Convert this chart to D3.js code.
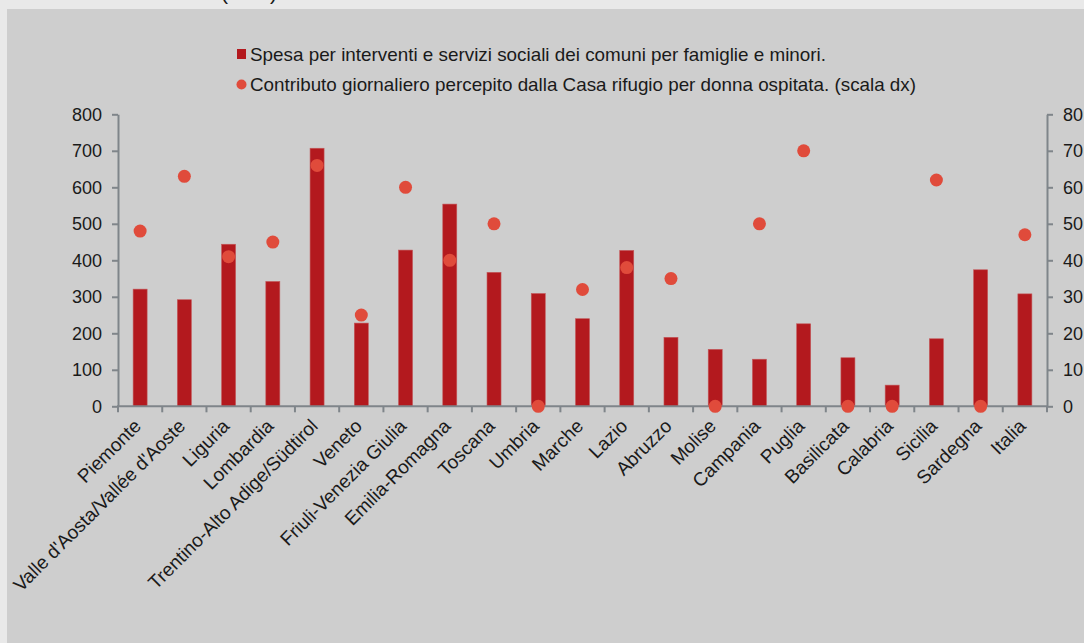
<!DOCTYPE html>
<html>
<head>
<meta charset="utf-8">
<script src="https://cdn.jsdelivr.net/npm/d3@7"></script>
<style>
  html, body { margin: 0; padding: 0; background: #e9e9e9; }
  svg { display: block; }
  text { font-family: "Liberation Sans", Arial, sans-serif; fill: #1a1a1a; }
</style>
</head>
<body>
<svg id="chart" width="1084" height="643"></svg>
<script>
const categories = ["Piemonte", "Valle d'Aosta/Vallée d'Aoste", "Liguria", "Lombardia",
  "Trentino-Alto Adige/Südtirol", "Veneto", "Friuli-Venezia Giulia", "Emilia-Romagna",
  "Toscana", "Umbria", "Marche", "Lazio", "Abruzzo", "Molise", "Campania", "Puglia",
  "Basilicata", "Calabria", "Sicilia", "Sardegna", "Italia"];
const spesa = [321, 292, 444, 342, 707, 228, 428, 554, 367, 309, 240, 427, 189, 156, 129, 226, 133, 58, 185, 374, 308];
const contributo = [48, 63, 41, 45, 66, 25, 60, 40, 50, 0, 32, 38, 35, 0, 50, 70, 0, 0, 62, 0, 47];
const leftTicks = [0, 100, 200, 300, 400, 500, 600, 700, 800];
const rightTicks = [0, 10, 20, 30, 40, 50, 60, 70, 80];
const legendLabels = ["Spesa per interventi e servizi sociali dei comuni per famiglie e minori.",
  "Contributo giornaliero percepito dalla Casa rifugio per donna ospitata. (scala dx)"];
const topText = "(euro)";

const barColor = "#b3191e", dotColor = "#e04b3b", axisColor = "#7f858a";
const svg = d3.select("#chart");

// panel
svg.append("rect").attr("x", 0).attr("y", 0).attr("width", 1084).attr("height", 643).attr("fill", "#e9e9e9");
svg.append("rect").attr("x", 7).attr("y", 9).attr("width", 1077).attr("height", 634).attr("fill", "#cecece");
svg.append("text").attr("x", 221).attr("y", 0).attr("font-size", 21).text(topText);

const x0 = 118, x1 = 1047, yBottom = 406.3, yTop = 114.3;
const x = d3.scaleBand().domain(categories).range([x0, x1]).paddingInner(0).paddingOuter(0);
const yL = d3.scaleLinear().domain([0, 800]).range([yBottom, yTop]);
const yR = d3.scaleLinear().domain([0, 80]).range([yBottom, yTop]);
const barW = 14;

// bars
svg.append("g").selectAll("rect").data(categories).join("rect")
  .attr("x", d => x(d) + x.bandwidth() / 2 - barW / 2)
  .attr("y", (d, i) => yL(spesa[i]))
  .attr("width", barW)
  .attr("height", (d, i) => yBottom - yL(spesa[i]))
  .attr("fill", barColor)
  .attr("stroke", "#c4585a").attr("stroke-width", 0.6);

// axes
const gL = svg.append("g").attr("transform", `translate(${x0},0)`)
  .call(d3.axisLeft(yL).tickValues(leftTicks).tickSize(6).tickPadding(10).tickSizeOuter(0));
const gR = svg.append("g").attr("transform", `translate(${x1},0)`)
  .call(d3.axisRight(yR).tickValues(rightTicks).tickSize(6).tickPadding(10).tickSizeOuter(0));
[gL, gR].forEach(g => {
  g.select(".domain").attr("stroke", axisColor).attr("stroke-width", 2);
  g.selectAll(".tick line").attr("stroke", axisColor).attr("stroke-width", 2);
  g.selectAll(".tick text").attr("font-size", 18).attr("fill", "#1a1a1a")
    .attr("font-family", "Liberation Sans, Arial, sans-serif");
});

// bottom axis
const gB = svg.append("g");
gB.append("line").attr("x1", x0 - 1).attr("x2", x1 + 1).attr("y1", yBottom).attr("y2", yBottom)
  .attr("stroke", axisColor).attr("stroke-width", 2);
const bounds = categories.map(c => x(c)).concat([x1]);
gB.selectAll("line.t").data(bounds).join("line").attr("class", "t")
  .attr("x1", d => d).attr("x2", d => d).attr("y1", yBottom).attr("y2", yBottom + 6)
  .attr("stroke", axisColor).attr("stroke-width", 2);
gB.selectAll("text").data(categories).join("text")
  .attr("transform", d => `translate(${x(d) + x.bandwidth() / 2 + 2},${yBottom + 21}) rotate(-45)`)
  .attr("text-anchor", "end")
  .attr("font-size", 19)
  .text(d => d);

// dots
svg.append("g").selectAll("circle").data(categories).join("circle")
  .attr("cx", d => x(d) + x.bandwidth() / 2)
  .attr("cy", (d, i) => yR(contributo[i]))
  .attr("r", 6.5)
  .attr("fill", dotColor);

// legend
const lg = svg.append("g");
lg.append("rect").attr("x", 237).attr("y", 49).attr("width", 9).attr("height", 10).attr("fill", barColor);
lg.append("circle").attr("cx", 241.5).attr("cy", 84.5).attr("r", 5).attr("fill", dotColor);
lg.append("text").attr("x", 250).attr("y", 61).attr("font-size", 18.5)
  .attr("textLength", 576).attr("lengthAdjust", "spacingAndGlyphs").text(legendLabels[0]);
lg.append("text").attr("x", 250).attr("y", 91).attr("font-size", 18.5)
  .attr("textLength", 666).attr("lengthAdjust", "spacingAndGlyphs").text(legendLabels[1]);
</script>
</body>
</html>
